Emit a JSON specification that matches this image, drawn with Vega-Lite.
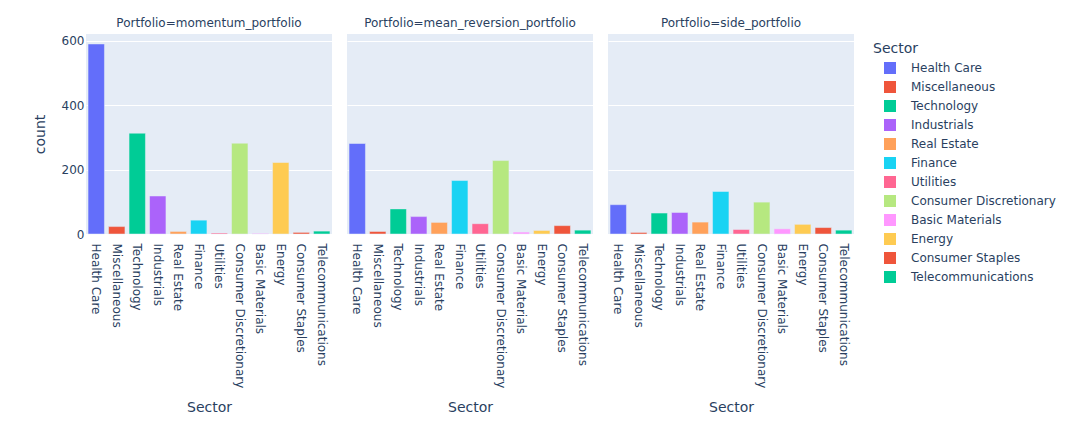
{
  "$schema": "https://vega.github.io/schema/vega-lite/v6.json",
  "background": "white",
  "padding": {"left": 33, "top": 17, "right": 5, "bottom": 5},
  "config": {
    "font": "DejaVu Sans",
    "view": {"fill": "#E5ECF6", "stroke": null},
    "axis": {
      "labelColor": "#2a3f5f",
      "titleColor": "#2a3f5f",
      "labelFontSize": 12,
      "titleFontSize": 14,
      "titleFontWeight": "normal",
      "domain": false,
      "ticks": false
    },
    "header": {"labelColor": "#2a3f5f", "labelFontSize": 12},
    "legend": {
      "titleColor": "#2a3f5f",
      "labelColor": "#2a3f5f",
      "titleFontSize": 14,
      "titleFontWeight": "normal",
      "labelFontSize": 12
    }
  },
  "data": {
    "values": [
      {"Portfolio": "momentum_portfolio", "Sector": "Health Care", "count": 590},
      {"Portfolio": "momentum_portfolio", "Sector": "Miscellaneous", "count": 23},
      {"Portfolio": "momentum_portfolio", "Sector": "Technology", "count": 313},
      {"Portfolio": "momentum_portfolio", "Sector": "Industrials", "count": 118},
      {"Portfolio": "momentum_portfolio", "Sector": "Real Estate", "count": 8},
      {"Portfolio": "momentum_portfolio", "Sector": "Finance", "count": 43},
      {"Portfolio": "momentum_portfolio", "Sector": "Utilities", "count": 3},
      {"Portfolio": "momentum_portfolio", "Sector": "Consumer Discretionary", "count": 282},
      {"Portfolio": "momentum_portfolio", "Sector": "Basic Materials", "count": 2},
      {"Portfolio": "momentum_portfolio", "Sector": "Energy", "count": 222},
      {"Portfolio": "momentum_portfolio", "Sector": "Consumer Staples", "count": 5},
      {"Portfolio": "momentum_portfolio", "Sector": "Telecommunications", "count": 9},
      {"Portfolio": "mean_reversion_portfolio", "Sector": "Health Care", "count": 281},
      {"Portfolio": "mean_reversion_portfolio", "Sector": "Miscellaneous", "count": 8},
      {"Portfolio": "mean_reversion_portfolio", "Sector": "Technology", "count": 78},
      {"Portfolio": "mean_reversion_portfolio", "Sector": "Industrials", "count": 54},
      {"Portfolio": "mean_reversion_portfolio", "Sector": "Real Estate", "count": 36},
      {"Portfolio": "mean_reversion_portfolio", "Sector": "Finance", "count": 166},
      {"Portfolio": "mean_reversion_portfolio", "Sector": "Utilities", "count": 32},
      {"Portfolio": "mean_reversion_portfolio", "Sector": "Consumer Discretionary", "count": 228},
      {"Portfolio": "mean_reversion_portfolio", "Sector": "Basic Materials", "count": 6},
      {"Portfolio": "mean_reversion_portfolio", "Sector": "Energy", "count": 11},
      {"Portfolio": "mean_reversion_portfolio", "Sector": "Consumer Staples", "count": 26},
      {"Portfolio": "mean_reversion_portfolio", "Sector": "Telecommunications", "count": 12},
      {"Portfolio": "side_portfolio", "Sector": "Health Care", "count": 91},
      {"Portfolio": "side_portfolio", "Sector": "Miscellaneous", "count": 5},
      {"Portfolio": "side_portfolio", "Sector": "Technology", "count": 65},
      {"Portfolio": "side_portfolio", "Sector": "Industrials", "count": 67},
      {"Portfolio": "side_portfolio", "Sector": "Real Estate", "count": 37},
      {"Portfolio": "side_portfolio", "Sector": "Finance", "count": 132},
      {"Portfolio": "side_portfolio", "Sector": "Utilities", "count": 14},
      {"Portfolio": "side_portfolio", "Sector": "Consumer Discretionary", "count": 99},
      {"Portfolio": "side_portfolio", "Sector": "Basic Materials", "count": 16},
      {"Portfolio": "side_portfolio", "Sector": "Energy", "count": 30},
      {"Portfolio": "side_portfolio", "Sector": "Consumer Staples", "count": 20},
      {"Portfolio": "side_portfolio", "Sector": "Telecommunications", "count": 12}
    ]
  },
  "facet": {
    "column": {
      "field": "Portfolio",
      "type": "nominal",
      "sort": ["momentum_portfolio", "mean_reversion_portfolio", "side_portfolio"],
      "header": {"title": null, "labelExpr": "'Portfolio=' + datum.value", "labelPadding": 4}
    }
  },
  "spacing": 15,
  "spec": {
    "width": 246,
    "height": 200,
    "mark": {"type": "bar", "stroke": "#E5ECF6", "strokeWidth": 0.5},
    "encoding": {
      "x": {
        "field": "Sector",
        "type": "nominal",
        "sort": ["Health Care", "Miscellaneous", "Technology", "Industrials", "Real Estate", "Finance", "Utilities", "Consumer Discretionary", "Basic Materials", "Energy", "Consumer Staples", "Telecommunications"],
        "scale": {"paddingInner": 0.2, "paddingOuter": 0.1},
        "axis": {"labelAngle": 90, "labelPadding": 8, "titlePadding": 13, "grid": false}
      },
      "y": {
        "field": "count",
        "type": "quantitative",
        "scale": {"domain": [0, 621], "nice": false},
        "axis": {"values": [0, 200, 400, 600], "gridColor": "white", "gridWidth": 1, "labelPadding": 2, "titlePadding": 14}
      },
      "color": {
        "field": "Sector",
        "type": "nominal",
        "sort": ["Health Care", "Miscellaneous", "Technology", "Industrials", "Real Estate", "Finance", "Utilities", "Consumer Discretionary", "Basic Materials", "Energy", "Consumer Staples", "Telecommunications"],
        "scale": {
          "domain": ["Health Care", "Miscellaneous", "Technology", "Industrials", "Real Estate", "Finance", "Utilities", "Consumer Discretionary", "Basic Materials", "Energy", "Consumer Staples", "Telecommunications"],
          "range": ["#636EFA", "#EF553B", "#00CC96", "#AB63FA", "#FFA15A", "#19D3F3", "#FF6692", "#B6E880", "#FF97FF", "#FECB52", "#EF553B", "#00CC96"]
        },
        "legend": {"symbolType": "square", "symbolSize": 144, "symbolStrokeWidth": 0, "symbolOffset": 11, "rowPadding": 7, "labelOffset": 15, "offset": 11, "padding": 8, "titlePadding": 6}
      }
    }
  }
}
